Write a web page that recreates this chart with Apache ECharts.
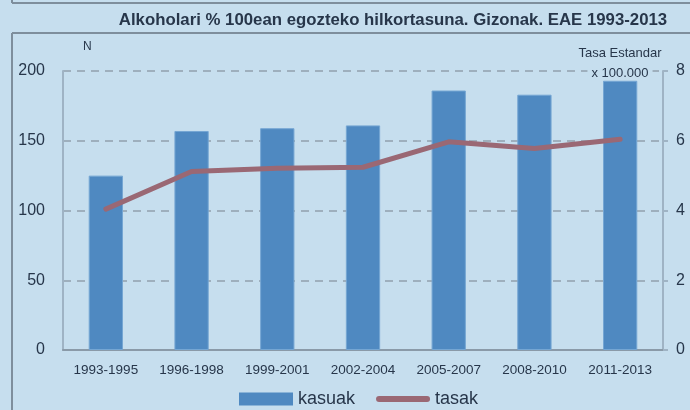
<!DOCTYPE html>
<html>
<head>
<meta charset="utf-8">
<script src="https://cdn.jsdelivr.net/npm/echarts@6/dist/echarts.min.js"></script>
<style>
  html, body { margin: 0; padding: 0; background: #C6DEEE; }
  #chart { width: 690px; height: 410px; }
</style>
</head>
<body>
<div id="chart"></div>
<script>
const periods = ['1993-1995', '1996-1998', '1999-2001', '2002-2004', '2005-2007', '2008-2010', '2011-2013']
const kasuak = [125, 157, 159, 161, 186, 183, 193]
const tasak = [4.04, 5.12, 5.21, 5.24, 5.97, 5.78, 6.04]
const leftTicks = [0, 50, 100, 150, 200]
const rightTicks = [0, 2, 4, 6, 8]

const textColor = '#27364A'
const bg = '#C6DEEE'
const font = 'Liberation Sans'
const chart = echarts.init(document.getElementById('chart'))

chart.setOption({
    backgroundColor: bg,
    textStyle: { fontFamily: font, color: textColor },
    title: {
        text: 'Alkoholari % 100ean egozteko hilkortasuna. Gizonak. EAE 1993-2013',
        left: 388,
        textAlign: 'center',
        top: 7,
        textStyle: { fontSize: 16.8, fontWeight: 'bold', color: textColor, fontFamily: font }
    },
    // frame lines around the chart
    graphic: [
        { type: 'line', shape: { x1: 12, y1: 3, x2: 690, y2: 3 }, style: { stroke: '#7E8E9C', lineWidth: 2 } },
        { type: 'line', shape: { x1: 12, y1: 33, x2: 690, y2: 33 }, style: { stroke: '#7E8E9C', lineWidth: 2 } },
        { type: 'line', shape: { x1: 12, y1: 33, x2: 12, y2: 410 }, style: { stroke: '#7E8E9C', lineWidth: 2 } },
        { type: 'line', shape: { x1: 12, y1: 0, x2: 12, y2: 3 }, style: { stroke: '#7E8E9C', lineWidth: 2 } }
    ],
    legend: {
        left: 234,
        top: 385,
        itemGap: 21,
        itemWidth: 54,
        itemHeight: 13,
        textStyle: { fontSize: 18, color: textColor, fontFamily: font },
        data: [
            { name: 'kasuak', icon: 'rect', itemStyle: { borderWidth: 0 } },
            { name: 'tasak', icon: 'path://M3,0 L51,0 A3,3 0 0 1 51,6 L3,6 A3,3 0 0 1 3,0 Z' }
        ]
    },
    grid: { left: 63, right: 27, top: 71, bottom: 60 },
    xAxis: {
        type: 'category',
        data: periods,
        axisLine: { lineStyle: { color: '#8A9AA8', width: 2 } },
        axisTick: { show: false },
        axisLabel: { fontSize: 13.5, color: textColor, margin: 13 }
    },
    yAxis: [{
        type: 'value',
        min: 0, max: 200, interval: 50,
        name: 'N',
        nameLocation: 'end',
        nameGap: 18,
        nameTextStyle: { fontSize: 12, color: textColor, align: 'left', padding: [0, 0, 0, 20] },
        axisLine: { show: true, lineStyle: { color: '#9FB3C4', width: 2 } },
        axisTick: { show: false },
        axisLabel: {
            fontSize: 16, color: textColor, margin: 18,
            formatter: v => leftTicks.includes(v) ? String(v) : ''
        },
        splitLine: { lineStyle: { color: '#9EAFBD', type: [8, 6], width: 2 } }
    }, {
        type: 'value',
        min: 0, max: 8, interval: 2,
        name: '{a|Tasa Estandar}\n{b|x 100.000}',
        nameLocation: 'end',
        nameGap: -12,
        nameTextStyle: {
            align: 'center',
            padding: [0, 86, 0, 0],
            rich: {
                a: { fontSize: 13, color: textColor, fontFamily: font, lineHeight: 20 },
                b: { fontSize: 13, color: textColor, fontFamily: font, lineHeight: 20, backgroundColor: bg, padding: [0, 4] }
            }
        },
        axisLine: { show: true, lineStyle: { color: '#9FB3C4', width: 2 } },
        axisTick: { show: true, length: 5, lineStyle: { color: '#9FB3C4', width: 2 } },
        axisLabel: {
            fontSize: 16, color: textColor, margin: 13,
            formatter: v => rightTicks.includes(v) ? String(v) : ''
        },
        splitLine: { show: false }
    }],
    series: [{
        name: 'kasuak',
        type: 'bar',
        data: kasuak,
        barWidth: '40%',
        itemStyle: { color: '#4F89C1', borderColor: '#75A6D3', borderWidth: 1 }
    }, {
        name: 'tasak',
        type: 'line',
        yAxisIndex: 1,
        data: tasak,
        symbol: 'none',
        lineStyle: { color: '#9A6874', width: 5, cap: 'round', join: 'round' },
        itemStyle: { color: '#9A6874' }
    }]
})
</script>
</body>
</html>
